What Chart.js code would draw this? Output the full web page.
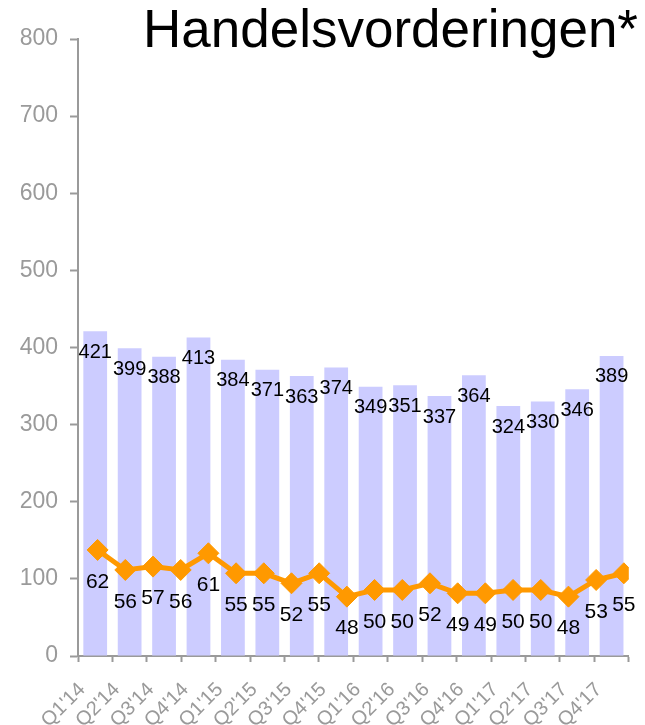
<!DOCTYPE html>
<html>
<head>
<meta charset="utf-8">
<script src="https://cdn.jsdelivr.net/npm/chart.js@4.4.1/dist/chart.umd.min.js"></script>
<style>
  html, body { margin: 0; padding: 0; background: #ffffff; }
  #wrap { width: 645px; height: 725px; position: relative; }
</style>
</head>
<body>
<div id="wrap"><canvas id="c"></canvas></div>
<script>
const chartTitle = "Handelsvorderingen*";
const quarters = ["Q1'14","Q2'14","Q3'14","Q4'14","Q1'15","Q2'15","Q3'15","Q4'15",
                  "Q1'16","Q2'16","Q3'16","Q4'16","Q1'17","Q2'17","Q3'17","Q4'17"];
const receivables = [421, 399, 388, 413, 384, 371, 363, 374, 349, 351, 337, 364, 324, 330, 346, 389];
const dsoValues = [62, 56, 57, 56, 61, 55, 55, 52, 55, 48, 50, 50, 52, 49, 49, 50, 50, 48, 53, 55];
const yTicks = [0, 100, 200, 300, 400, 500, 600, 700, 800];

const FONT = "'Liberation Sans', Arial, sans-serif";
const GRAY = '#9a9a9a';

const labelPlugin = {
  id: 'valueLabels',
  afterDatasetsDraw(chart) {
    const ctx = chart.ctx;
    ctx.save();
    ctx.fillStyle = '#000000';
    ctx.textAlign = 'center';
    ctx.textBaseline = 'middle';
    ctx.font = '20px ' + FONT;
    const barMeta = chart.getDatasetMeta(0);
    barMeta.data.forEach((el, i) => {
      ctx.fillText(String(receivables[i]), el.x, el.y + 21);
    });
    ctx.font = '21px ' + FONT;
    const lineMeta = chart.getDatasetMeta(1);
    lineMeta.data.forEach((el, i) => {
      ctx.fillText(String(dsoValues[i]), el.x, el.y + 32);
    });
    ctx.restore();
  }
};

const titlePlugin = {
  id: 'cornerTitle',
  afterDraw(chart) {
    const ctx = chart.ctx;
    ctx.save();
    ctx.fillStyle = '#000000';
    ctx.font = '53px ' + FONT;
    ctx.textAlign = 'right';
    ctx.textBaseline = 'alphabetic';
    ctx.fillText(chartTitle, 638, 47);
    ctx.restore();
  }
};

new Chart(document.getElementById('c'), {
  data: {
    labels: quarters,
    datasets: [
      {
        type: 'bar',
        data: receivables,
        backgroundColor: '#ccccff',
        borderWidth: 0,
        grouped: false,
        barPercentage: 0.69,
        categoryPercentage: 1.0,
        xAxisID: 'x',
        yAxisID: 'y',
        order: 2
      },
      {
        type: 'line',
        data: dsoValues.map((v, i) => ({ x: i, y: v })),
        borderColor: '#ff9900',
        backgroundColor: '#ff9900',
        borderWidth: 5,
        tension: 0,
        pointStyle: 'rectRot',
        pointRadius: 10.5,
        pointBorderWidth: 1,
        pointBackgroundColor: '#ff9900',
        pointBorderColor: '#ff9900',
        xAxisID: 'x2',
        yAxisID: 'y2',
        order: 1
      }
    ]
  },
  options: {
    responsive: true,
    maintainAspectRatio: false,
    animation: false,
    layout: { padding: { top: 39, right: 14, bottom: 0, left: 0 } },
    plugins: {
      legend: { display: false },
      tooltip: { enabled: false },
      title: { display: false }
    },
    scales: {
      x: {
        type: 'category',
        offset: true,
        afterFit: (s) => { s.height = 69; },
        grid: {
          display: true,
          drawOnChartArea: false,
          drawTicks: true,
          tickLength: 6,
          tickWidth: 2,
          color: GRAY,
          offset: true
        },
        border: { display: true, color: GRAY, width: 2 },
        ticks: {
          color: GRAY,
          font: { family: FONT, size: 20 },
          minRotation: 45,
          maxRotation: 45,
          autoSkip: false,
          padding: 16,
          labelOffset: -13
        }
      },
      x2: {
        type: 'linear',
        display: false,
        min: -0.708,
        max: 19.179
      },
      y: {
        type: 'linear',
        min: 0,
        max: 800,
        afterFit: (s) => { s.width = 78; },
        afterBuildTicks: (s) => { s.ticks = yTicks.map(v => ({ value: v })); },
        grid: {
          display: true,
          drawOnChartArea: false,
          drawTicks: true,
          tickLength: 8,
          tickWidth: 2,
          color: GRAY
        },
        border: { display: true, color: GRAY, width: 2 },
        ticks: {
          color: GRAY,
          font: { family: FONT, size: 23 },
          padding: 12
        }
      },
      y2: {
        type: 'linear',
        display: false,
        min: 30.2,
        max: 215.2
      }
    }
  },
  plugins: [labelPlugin, titlePlugin]
});
</script>
</body>
</html>
